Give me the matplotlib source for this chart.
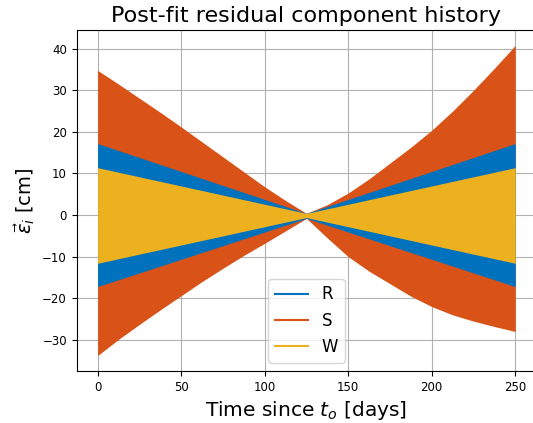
import matplotlib
matplotlib.use("Agg")
import matplotlib.pyplot as plt
from matplotlib.lines import Line2D

# Envelope of the oscillating residuals (cm)
r_days = [0, 125, 250]
r_upper = [17.2, 0.4, 17.2]
r_lower = [-17.2, -0.8, -17.2]

w_days = [0, 125, 250]
w_upper = [11.4, 0.4, 11.4]
w_lower = [-11.6, -0.6, -11.6]

s_days = [0, 12.5, 25, 37.5, 50, 62.5, 75, 87.5, 100, 112.5, 125,
          137.5, 150, 162.5, 175, 187.5, 200, 212.5, 225, 237.5, 250]
s_upper = [34.8, 31.5, 28.1, 24.7, 21.2, 17.6, 14.0, 10.4, 6.8, 3.5, 0.4,
           2.5, 5.3, 8.7, 12.5, 16.3, 20.4, 25.0, 30.0, 35.3, 40.8]
s_lower = [-33.8, -29.9, -26.3, -22.8, -19.4, -16.0, -12.8, -9.7, -6.8, -3.8, -0.8,
           -5.5, -10.0, -13.5, -16.5, -19.5, -22.0, -24.0, -25.5, -26.8, -28.0]

labels = ["R", "S", "W"]
colors = ["#0072BD", "#D95319", "#EDB120"]

fig = plt.figure(figsize=(5.33, 4.23), dpi=100)
ax = fig.add_axes([0.1439, 0.1229, 0.8620, 0.8062])
ax.set_axisbelow(True)

# S underneath, then R, then W on top
ax.fill_between(s_days, s_lower, s_upper, color=colors[1], lw=0, zorder=2)
ax.fill_between(r_days, r_lower, r_upper, color=colors[0], lw=0, zorder=3)
ax.fill_between(w_days, w_lower, w_upper, color=colors[2], lw=0, zorder=4)

ax.set_xlim(-12.5, 262.5)
ax.set_ylim(-37.5, 44.5)
ax.set_xticks([0, 50, 100, 150, 200, 250])
ax.set_yticks([-30, -20, -10, 0, 10, 20, 30, 40])
ax.tick_params(labelsize=8.5)
ax.grid(True, color="#b0b0b0", lw=0.8)

ax.set_title("Post-fit residual component history", fontsize=16)
ax.set_xlabel("Time since $t_o$ [days]", fontsize=14.5)
ax.set_ylabel(r"$\vec{\varepsilon}_i$ [cm]", fontsize=14)

handles = [Line2D([], [], color=c, lw=1.5) for c in colors]
ax.legend(handles, labels, loc="lower center", fontsize=12)

fig.savefig("out.png", dpi=100)
